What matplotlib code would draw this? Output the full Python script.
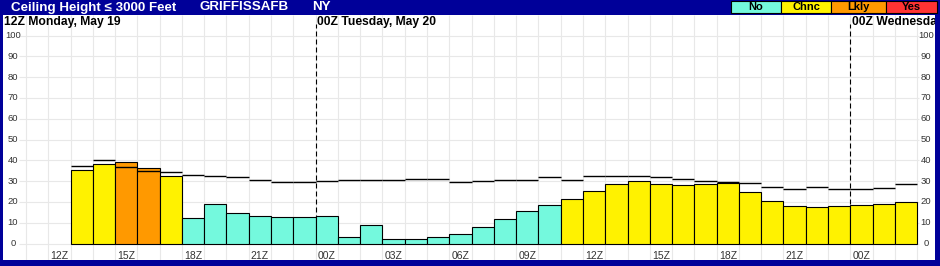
import numpy as np
import matplotlib
matplotlib.use("Agg")
import matplotlib.pyplot as plt
from matplotlib.patches import Rectangle

plt.rcParams['font.family'] = ['Liberation Sans', 'DejaVu Sans']

# Hourly ceiling-height probabilities, 13Z Mon May 19 through 02Z Wed May 21
bar_values = [35.2, 38.1, 39.0, 36.1, 32.6, 12.1, 18.8, 14.5, 13.1, 12.6,
              12.6, 13.1, 3.0, 8.7, 2.0, 2.0, 3.0, 4.4, 7.8, 11.6,
              15.5, 18.4, 21.3, 25.1, 28.6, 29.9, 28.5, 28.0, 28.5, 28.9,
              24.6, 20.3, 17.9, 17.4, 17.9, 18.4, 18.8, 19.8]
# category per hour: N = No, C = Chnc, L = Lkly, Y = Yes
bar_category = ['C', 'C', 'L', 'L', 'C', 'N', 'N', 'N', 'N', 'N',
                'N', 'N', 'N', 'N', 'N', 'N', 'N', 'N', 'N', 'N',
                'N', 'N', 'C', 'C', 'C', 'C', 'C', 'C', 'C', 'C',
                'C', 'C', 'C', 'C', 'C', 'C', 'C', 'C']
# black step segments above the bars
line_values = [37.3, 40.0, 36.6, 35.0, 34.2, 32.9, 32.3, 31.8, 30.4, 29.4,
               29.4, 29.9, 30.4, 30.4, 30.4, 30.9, 30.9, 29.4, 29.9, 30.4,
               30.4, 31.8, 30.4, 32.4, 32.4, 32.3, 31.8, 31.2, 29.9, 29.7,
               28.9, 27.0, 26.1, 27.0, 26.0, 26.0, 26.5, 28.5]

first_hour = 1   # hours after 12Z Monday
xtick_hours = list(range(0, 37, 3))
xtick_labels = ['12Z', '15Z', '18Z', '21Z', '00Z', '03Z', '06Z', '09Z',
                '12Z', '15Z', '18Z', '21Z', '00Z']
day_hours = [0, 12, 36]
day_labels = ['12Z Monday, May 19', '00Z Tuesday, May 20', '00Z Wednesday, May 21']
ytick_values = list(range(0, 101, 10))

legend_names = ['No', 'Chnc', 'Lkly', 'Yes']
legend_keys = ['N', 'C', 'L', 'Y']
colors = {'N': '#74F9DD', 'C': '#FFF200', 'L': '#FF9900', 'Y': '#FF3333'}
navy = '#000099'

W, H = 940, 266
fig = plt.figure(figsize=(W / 100, H / 100), dpi=100, facecolor=navy)
ax = fig.add_axes([3 / W, 1 - 260 / H, 932 / W, 245 / H])
ax.set_facecolor('white')
ax.set_xlim(-2.03, 39.8)
ax.set_ylim(-7.9, 109.9)
ax.set_xticks([])
ax.set_yticks([])
for s in ax.spines.values():
    s.set_visible(False)

# grid
ax.vlines(np.arange(-1, 40), -7.9, 109.9, color='#e8e8e8', lw=0.8, zorder=0)
ax.hlines(ytick_values, -1.31, 39.1, color='#e8e8e8', lw=0.8, zorder=0)

# day separators
for h in day_hours[1:]:
    ax.vlines(h, 0, 105.5, color='black', lw=0.8, linestyles=(0, (4.5, 2.7)), zorder=1)

x = np.arange(len(bar_values)) + first_hour
ax.bar(x, bar_values, width=1, align='edge',
       color=[colors[c] for c in bar_category], edgecolor='black', lw=0.8, zorder=2)
ax.hlines(line_values, x, x + 1, color='black', lw=1.0, zorder=3)

# axis labels drawn inside the plot
for h, lab in zip(xtick_hours, xtick_labels):
    ax.text(h + 0.5, -6.0, lab, ha='center', va='center', fontsize=7.5, color='#333333')
for v in ytick_values:
    ax.text(-2.03 + 10 / 22.28, v, str(v), ha='center', va='center', fontsize=6.8, color='#333333')
    ax.text(39.8 - 9 / 22.28, v, str(v), ha='center', va='center', fontsize=6.8, color='#333333')
for i, (h, lab) in enumerate(zip(day_hours, day_labels)):
    xpos = -1.97 if i == 0 else h + 0.07
    ax.text(xpos, 106.6, lab, ha='left', va='center', fontsize=8.7,
            fontweight='bold', color='black', clip_on=True)

# title bar
ty = 1 - 7.5 / H
fig.text(11 / W, ty, 'Ceiling Height \u2264 3000 Feet', color='white',
         fontsize=9.6, fontweight='bold', va='center')
fig.text(199 / W, ty, 'GRIFFISSAFB', color='white', fontsize=9.6, fontweight='bold', va='center')
fig.text(312 / W, ty, 'NY', color='white', fontsize=9.6, fontweight='bold', va='center')

# legend boxes
edges = [731, 781, 831, 886, 937]
for i, (name, key) in enumerate(zip(legend_names, legend_keys)):
    x0, x1 = edges[i], edges[i + 1]
    fig.add_artist(Rectangle((x0 / W, 1 - 13 / H), (x1 - x0) / W, 12 / H,
                             transform=fig.transFigure, facecolor=colors[key],
                             edgecolor='black', lw=0.8))
    fig.text((x0 + x1) / 2 / W, 1 - 7 / H, name, ha='center', va='center',
             fontsize=8, fontweight='bold', color='black')

fig.savefig('out.png', dpi=100, facecolor=navy)
